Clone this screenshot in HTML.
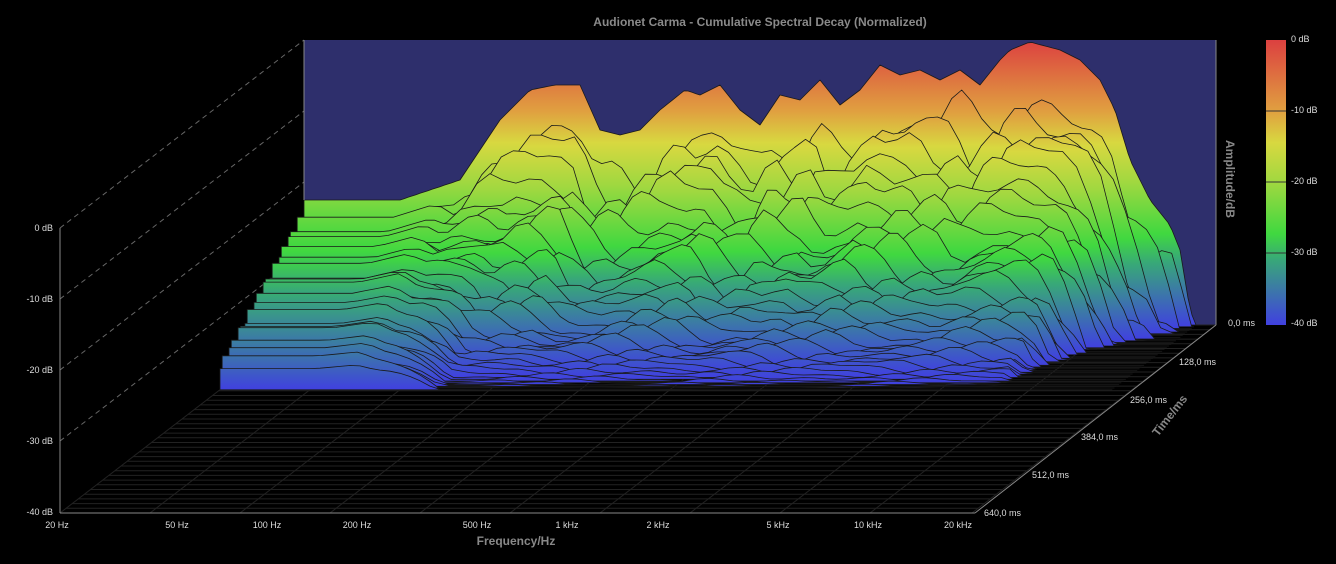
<!DOCTYPE html>
<html><head><meta charset="utf-8"><style>
html,body{margin:0;padding:0;background:#000;width:1336px;height:564px;overflow:hidden}
svg text{font-family:"Liberation Sans",sans-serif}
</style></head><body>
<svg id="s" width="1336" height="564" viewBox="0 0 1336 564" xmlns="http://www.w3.org/2000/svg">
<defs>
<linearGradient id="cb" x1="0" y1="0" x2="0" y2="1">
<stop offset="0" stop-color="#dc4040"/><stop offset="0.25" stop-color="#e0a040"/>
<stop offset="0.36" stop-color="#d8d840"/><stop offset="0.5" stop-color="#a0d840"/>
<stop offset="0.68" stop-color="#40d840"/><stop offset="0.77" stop-color="#38a878"/>
<stop offset="1" stop-color="#4040e0"/></linearGradient>
</defs>
<rect x="304" y="40" width="912" height="285" fill="#2e2f6c"/>
<g id="floor"></g>
<g id="wall" stroke="#666" stroke-dasharray="5,4" stroke-width="1"></g>
<g id="slices"></g>
<g stroke="#888" stroke-width="1" fill="none">
<line x1="60" y1="228" x2="60" y2="513"/><line x1="60" y1="513" x2="975" y2="513"/>
<line x1="975" y1="513" x2="1216" y2="325"/><line x1="304" y1="40" x2="304" y2="200"/>
<line x1="1216" y1="40" x2="1216" y2="325"/>
</g>
<text x="760" y="26" fill="#8a8a8a" font-size="12" font-weight="bold" text-anchor="middle">Audionet Carma - Cumulative Spectral Decay (Normalized)</text>
<g fill="#ddd" font-size="9" text-anchor="end">
<text x="53" y="231">0 dB</text><text x="53" y="302">-10 dB</text><text x="53" y="373">-20 dB</text><text x="53" y="444">-30 dB</text><text x="53" y="515">-40 dB</text>
</g>
<g fill="#ddd" font-size="9" text-anchor="middle">
<text x="57" y="528">20 Hz</text><text x="177" y="528">50 Hz</text><text x="267" y="528">100 Hz</text><text x="357" y="528">200 Hz</text><text x="477" y="528">500 Hz</text><text x="567" y="528">1 kHz</text><text x="658" y="528">2 kHz</text><text x="778" y="528">5 kHz</text><text x="868" y="528">10 kHz</text><text x="958" y="528">20 kHz</text>
</g>
<text x="516" y="545" fill="#888" font-size="12" font-weight="bold" text-anchor="middle">Frequency/Hz</text>
<g fill="#ddd" font-size="9">
<text x="1228" y="326">0,0 ms</text><text x="1179" y="365">128,0 ms</text><text x="1130" y="403">256,0 ms</text><text x="1081" y="440">384,0 ms</text><text x="1032" y="478">512,0 ms</text><text x="984" y="516">640,0 ms</text>
</g>
<text transform="translate(1158,437) rotate(-52)" fill="#888" font-size="12" font-weight="bold">Time/ms</text>
<text transform="translate(1226,140) rotate(90)" fill="#888" font-size="12" font-weight="bold">Amplitude/dB</text>
<rect x="1266" y="40" width="20" height="285" fill="url(#cb)"/>
<g stroke="#333" stroke-width="1"><line x1="1266" y1="111" x2="1286" y2="111"/><line x1="1266" y1="182" x2="1286" y2="182"/><line x1="1266" y1="253" x2="1286" y2="253"/></g>
<g fill="#ddd" font-size="9"><text x="1291" y="42">0 dB</text><text x="1291" y="113">-10 dB</text><text x="1291" y="184">-20 dB</text><text x="1291" y="255">-30 dB</text><text x="1291" y="326">-40 dB</text></g>
</svg>
<script>
const NS="http://www.w3.org/2000/svg";
function el(t,a,p){const e=document.createElementNS(NS,t);for(const k in a)e.setAttribute(k,a[k]);p.appendChild(e);return e;}
const floor=document.getElementById('floor'),wall=document.getElementById('wall'),sl=document.getElementById('slices');
const K=-244/188;
for(let i=0;i<=40;i++){const d=i*188/40;el('line',{x1:304+K*d,y1:325+d,x2:1216+K*d,y2:325+d,stroke:'#222','stroke-width':1},floor);}
[304,394,484,574,664,754,844,934,1024,1114,1216].forEach(x=>el('line',{x1:x,y1:325,x2:x+K*188,y2:513,stroke:'#222'},floor));
[228,299,370,441].forEach(y=>el('line',{x1:60,y1:y,x2:304,y2:y-188},wall));
const pts=[[304,200],[400,200],[460,180],[500,120],[530,90],[555,85],[580,85],[600,130],[620,135],[640,130],[660,110],[685,90],[700,95],[720,85],[740,110],[760,125],[780,95],[800,100],[820,80],[840,105],[860,90],[880,65],[900,75],[920,70],[940,80],[960,70],[980,85],[1000,60],[1010,50],[1030,42],[1060,50],[1080,60],[1100,80],[1115,110],[1130,160],[1150,200],[1170,225],[1180,250],[1190,310],[1196,325]];
function h0(X){for(let i=0;i<pts.length-1;i++){if(X<=pts[i+1][0]){const t=(X-pts[i][0])/(pts[i+1][0]-pts[i][0]);return 325-(pts[i][1]+t*(pts[i+1][1]-pts[i][1]));}}return 0;}
const N=38,G=[["0","#dc4040"],["0.25","#e0a040"],["0.36","#d8d840"],["0.5","#a0d840"],["0.68","#40d840"],["0.77","#38a878"],["1","#4040e0"]];
const defs=document.querySelector('defs');
for(let k=0;k<N;k++){
 const yb=325+k*1.75,sx=K*k*1.75,g=k/N;
 const lg=el('linearGradient',{id:'g'+k,gradientUnits:'userSpaceOnUse',x1:0,y1:yb-285,x2:0,y2:yb},defs);
 G.forEach(s=>el('stop',{offset:s[0],'stop-color':s[1]},lg));
 let d='M'+(304+sx).toFixed(1)+','+yb.toFixed(1);
 const step=k==0?4:(9+((k*7)%6));
 for(let X=304;X<=1196;X+=step){
  let h=h0(X),v;
  const low=h*(1-0.75*g)-8*Math.sin(k*1.7)-(k?12:0);
  if(X<440){v=low;}
  else{const w=Math.min(1,(X-440)/80);
   const n=(30*Math.sin(X*0.043+k*1.31)*Math.sin(X*0.011+k*0.57)+14*Math.sin(X*0.09+k*2.1));
   const mid=(h-40)*Math.pow(1-g,2.3)+n*Math.pow(1-g,1.3)-(X>1080?(X-1080)*g*3:0);
   v=(1-w)*low+w*mid;}
  if(k==0)v=h;
  v=Math.max(0,Math.min(v,h));
  d+=' L'+(X+sx).toFixed(1)+','+(yb-v).toFixed(1);
 }
 d+=' L'+(1196+sx).toFixed(1)+','+yb.toFixed(1)+' Z';
 el('path',{d:d,fill:'url(#g'+k+')',stroke:'#1a1a1a','stroke-width':0.8,'stroke-linejoin':'round'},sl);
}
</script>
</body></html>
